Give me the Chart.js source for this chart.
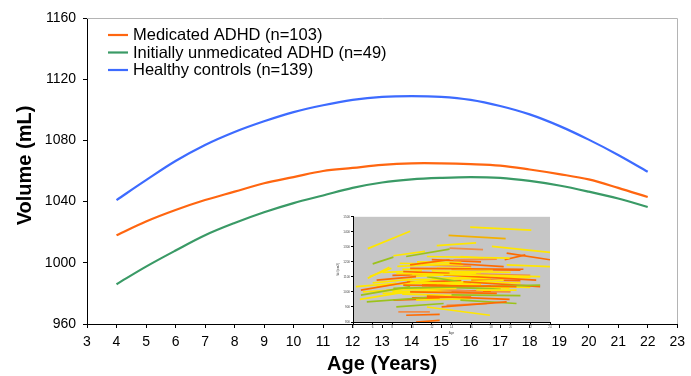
<!DOCTYPE html>
<html><head><meta charset="utf-8">
<script src="https://cdn.jsdelivr.net/npm/chart.js@4.4.0/dist/chart.umd.min.js"></script>
<style>
html,body{margin:0;padding:0;background:#fff;}
#wrap{position:relative;width:691px;height:376px;overflow:hidden;}
#main{position:absolute;left:0;top:0;}
#inset{position:absolute;left:330px;top:214px;}
</style></head><body>
<div id="wrap"><canvas id="main" width="691" height="376"></canvas><canvas id="inset" width="225" height="122"></canvas></div>
<script>
// ---- main chart data ----
const ages = [4,5,6,7,8,9,10,11,12,13,14,15,16,17,18,19,20,21,22];
const medicated = [1018,1027,1034.5,1041,1046.5,1052,1056,1060,1062,1064,1065,1065,1064.5,1063.5,1061,1058,1054.5,1049,1043];
const unmedicated = [986,997.5,1008,1018,1026,1033,1039,1044,1049,1052.5,1054.5,1055.5,1056,1055.5,1053.5,1050.5,1046.5,1042,1036.5];
const controls = [1041,1054,1066.5,1077,1085.5,1092.5,1098.5,1103,1106.5,1108.5,1109,1108.5,1106.5,1102.5,1097,1089.5,1080.5,1070.5,1059.5];
const seriesLabels = ['Medicated ADHD (n=103)','Initially unmedicated ADHD (n=49)','Healthy controls (n=139)'];
const seriesColors = ['#ff6610','#3a9a66','#3d6bff'];
const xTickMin = 3, xTickMax = 23, xStep = 1;
const yTickMin = 960, yTickMax = 1160, yStep = 40;

// ---- inset (individual trajectories) data: [age1, vol1, age2, vol2, colour key] ----
const insetSegments = [
 [5.5,1288,9.8,1404,'Y'],[13.7,1377,19.5,1355,'G'],[15.9,1431,22.1,1411,'Y'],[18.1,1303,24,1263,'Y'],
 [19.6,1258,24,1214,'O'],[6.0,1187,8.1,1232,'V'],[9.4,1236,13.8,1285,'V'],[13.8,1292,17.2,1281,'L'],
 [8.1,1241,11.3,1270,'Y'],[12.5,1308,16.5,1326,'Y'],[5.5,1091,7.7,1164,'Y'],[5.7,1102,7.9,1158,'Y'],
 [19.6,1180,24,1169,'Y'],[9.8,1180,13.8,1214,'O'],[11.5,1236,19.9,1225,'Y'],[6.4,1079,10.4,1102,'O'],
 [4.8,1012,9.8,1068,'O'],[4.8,979,9.8,1035,'V'],[4.7,950,9.4,1001,'Y'],[5.4,934,11.5,963,'V'],
 [4.3,1035,8.4,1057,'Y'],[8.4,900,13.2,923,'V'],[8.6,867,11.8,867,'L'],[9.4,845,12.8,851,'O'],
 [10.4,800,12.8,811,'O'],[11.5,900,17.9,845,'Y'],[13.0,900,19.6,934,'O'],[13.5,911,17.6,923,'L'],
 [14.9,945,20.6,923,'V'],[9.8,1157,21.3,1151,'O'],[8.4,1124,23,1102,'Y'],[9.1,1046,20.6,1035,'O'],
 [8.1,1024,23,1046,'V'],[10.8,1068,19.9,1024,'Y'],[13.2,1113,22.6,1079,'O'],[13.8,1191,19.3,1169,'O'],
 [9.8,1001,18.6,990,'O'],[7.4,1012,14.5,1024,'Y'],[11.5,972,19.9,950,'O'],[9.8,1102,16.5,1124,'Y'],
 [12.5,1158,18.2,1147,'Y'],[14.2,1214,18.6,1218,'L'],[8.75,1191,15.2,1180,'Y'],[6.4,1035,11.8,1079,'Y'],
 [10.8,1024,17.2,1001,'L'],[15.2,1068,23,1035,'O'],[12.5,1057,19.3,1079,'Y'],[10.4,945,15.9,956,'Y'],
 [8.1,945,12.8,956,'O'],[16.5,1012,20.6,1012,'Y'],[19.4,1214,21.5,1247,'O'],[9.1,1135,13.8,1124,'O'],
 [11.5,1102,14.9,1068,'V'],[14.9,1236,17.2,1225,'Y'],[9.0,1080,18,1090,'Y'],[10,1060,17,1050,'Y'],
 [12,1140,20,1130,'Y'],[7,990,13,1000,'Y'],[11,1030,18,1040,'O'],[14,980,21,975,'V'],
 [8.5,1170,14,1185,'Y'],[9,1150,16,1160,'Y'],[10,1120,17,1130,'Y'],[8,1110,13,1120,'O'],
 [12,1090,20,1100,'Y'],[9.5,1065,15,1075,'O'],[13,1065,21,1060,'Y'],[7.5,1050,12,1060,'Y'],
 [11,1045,16,1060,'O'],[15,1040,22,1030,'Y'],[8,1000,14,1010,'Y'],[12,1010,18,1005,'O'],
 [9,985,15,975,'Y'],[6,1060,10,1085,'Y'],[14,1150,21,1145,'O'],[15,1100,22,1095,'Y'],
 [16,1120,22,1110,'L'],[10.5,1200,15,1195,'Y'],[12,1215,17,1200,'O'],[7,1130,11,1140,'Y'],
 [13,1030,19,1020,'V'],[10,960,16,965,'O'],[14,1005,20,1000,'L'],[16,1080,21,1075,'O'],
 [5,1000,9,1015,'Y'],[11,1180,16,1170,'L']
];
const insetColors = {Y:'#ffe600',O:'#ff6a00',L:'#ef8d4a',V:'#9cc21a',G:'#f2b000'};
const insetXMin = 4, insetXMax = 24, insetXStep = 2;
const insetYMin = 800, insetYMax = 1500, insetYStep = 100;

const FONT = "'Liberation Sans', Arial, sans-serif";
const plain = v => String(v);

const frame = {
  id:'frame',
  afterDraw(c){
    const a=c.chartArea, ctx=c.ctx;
    ctx.save(); ctx.strokeStyle='#b4b4b4'; ctx.lineWidth=1;
    ctx.beginPath();
    ctx.moveTo(a.left, Math.round(a.top)+0.5); ctx.lineTo(Math.round(a.right)+0.5, Math.round(a.top)+0.5);
    ctx.lineTo(Math.round(a.right)+0.5, a.bottom);
    ctx.stroke(); ctx.restore();
  }
};
const legendIn = {
  id:'legendIn',
  afterDraw(c){
    const ctx=c.ctx;
    ctx.save();
    ctx.font = '16.5px ' + FONT; ctx.textBaseline='middle'; ctx.textAlign='left';
    c.data.datasets.forEach((d,i)=>{
      const y = 35 + i*17.5;
      ctx.strokeStyle=d.borderColor; ctx.lineWidth=2.2;
      ctx.beginPath(); ctx.moveTo(108,y); ctx.lineTo(128,y); ctx.stroke();
      ctx.fillStyle='#000'; ctx.fillText(d.label,133,y+0.5);
    });
    ctx.restore();
  }
};

const mk = (vals)=>ages.map((a,i)=>({x:a,y:vals[i]}));
new Chart(document.getElementById('main'),{
  type:'line',
  data:{datasets:[
    {label:seriesLabels[0],data:mk(medicated),borderColor:seriesColors[0]},
    {label:seriesLabels[1],data:mk(unmedicated),borderColor:seriesColors[1]},
    {label:seriesLabels[2],data:mk(controls),borderColor:seriesColors[2]}
  ].map(d=>Object.assign(d,{borderWidth:2.2,pointRadius:0,tension:0.35,fill:false}))},
  options:{
    responsive:false, animation:false,
    layout:{padding:{top:18,right:9,left:0,bottom:0}},
    plugins:{legend:{display:false},tooltip:{enabled:false}},
    scales:{
      x:{type:'linear',min:xTickMin,max:xTickMax,
        ticks:{stepSize:xStep,color:'#000',font:{family:FONT,size:14},padding:6,maxRotation:0,autoSkip:false,callback:plain},
        grid:{drawOnChartArea:false,drawTicks:true,tickLength:4,color:'#000'},
        border:{color:'#000',width:1},
        title:{display:true,text:'Age (Years)',color:'#000',font:{family:FONT,size:20,weight:'bold'},padding:{top:0,bottom:0}},
        afterFit(s){s.height=52;}
      },
      y:{min:yTickMin,max:yTickMax,
        ticks:{stepSize:yStep,color:'#000',font:{family:FONT,size:14},padding:7,callback:plain},
        grid:{drawOnChartArea:false,drawTicks:true,tickLength:4,color:'#000'},
        border:{color:'#000',width:1},
        title:{display:true,text:'\u00a0\u00a0Volume (mL)',color:'#000',font:{family:FONT,size:20,weight:'bold'},padding:{top:13,bottom:0}},
        afterFit(s){s.width=87;}
      }
    }
  },
  plugins:[frame,legendIn]
});

const grayBg = {
  id:'grayBg',
  beforeDraw(c){
    const a=c.chartArea, ctx=c.ctx;
    ctx.save(); ctx.fillStyle='#c6c6c6'; ctx.fillRect(a.left,a.top,a.right-a.left,a.bottom-a.top); ctx.restore();
  }
};
new Chart(document.getElementById('inset'),{
  type:'line',
  data:{datasets:insetSegments.map(s=>({
    data:[{x:s[0],y:s[1]},{x:s[2],y:s[3]}],
    borderColor:insetColors[s[4]],borderWidth:1.7,pointRadius:0,fill:false
  }))},
  options:{
    responsive:false, animation:false,
    layout:{padding:{top:2,right:5,left:0,bottom:0}},
    plugins:{legend:{display:false},tooltip:{enabled:false}},
    scales:{
      x:{type:'linear',min:insetXMin,max:insetXMax,
        ticks:{stepSize:insetXStep,color:'#444',font:{family:FONT,size:3},padding:1,maxRotation:0,autoSkip:false,callback:plain},
        grid:{drawOnChartArea:false,tickLength:2,color:'#000'},
        border:{color:'#000',width:1},
        title:{display:true,text:'Age',color:'#444',font:{family:FONT,size:3},padding:{top:1,bottom:1}},
        afterFit(s){s.height=14;}
      },
      y:{min:insetYMin,max:insetYMax,
        ticks:{stepSize:insetYStep,color:'#444',font:{family:FONT,size:3},padding:1,callback:plain},
        grid:{drawOnChartArea:false,tickLength:2,color:'#000'},
        border:{color:'#000',width:1},
        title:{display:true,text:'Vol (cm3)',color:'#444',font:{family:FONT,size:3},padding:{top:6,bottom:0}},
        afterFit(s){s.width=23;}
      }
    }
  },
  plugins:[grayBg]
});
</script>
</body></html>
